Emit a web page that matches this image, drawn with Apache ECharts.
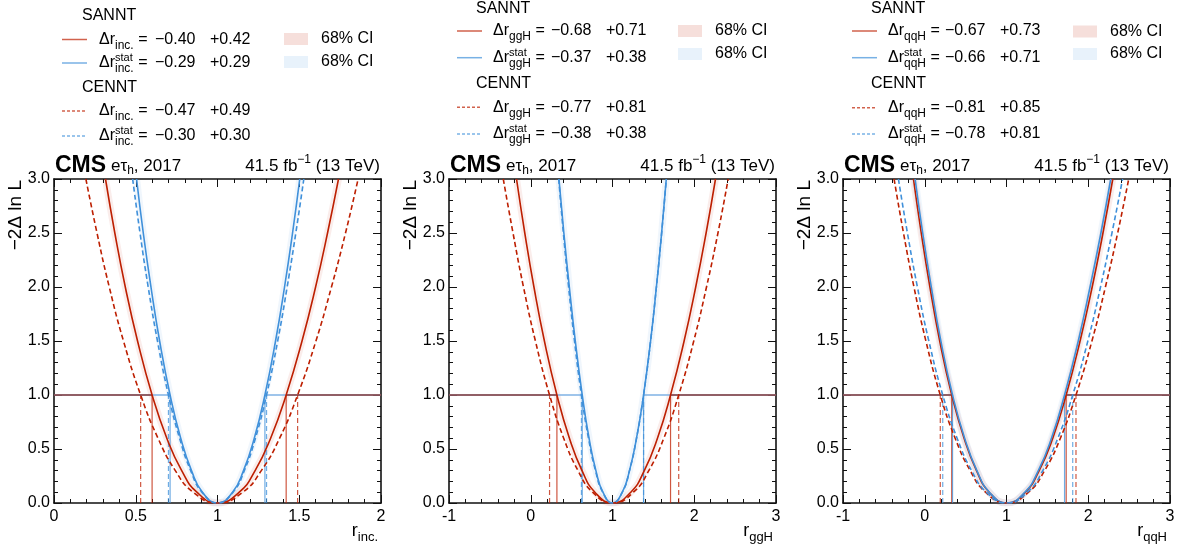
<!DOCTYPE html>
<html><head><meta charset="utf-8">
<script src="https://cdn.jsdelivr.net/npm/echarts@6/dist/echarts.min.js"></script>
<style>html,body{margin:0;padding:0;background:#fff}#c{width:1185px;height:547px}</style>
</head><body><div id="c"></div>
<script>
// ---------------- DATA ----------------
// -2 Delta ln L levels at which curve crossings were read (top -> minimum)
const levels = [3.0, 2.5, 2.0, 1.5, 1.0, 0.6, 0.3, 0.1, 0.0];
const bestFit = 1.0;

// r_inc. panel
const incSanntLeft      = [0.315, 0.372, 0.436, 0.511, 0.600, 0.690, 0.781, 0.874, 1.000];
const incSanntRight     = [1.740, 1.673, 1.600, 1.517, 1.420, 1.325, 1.230, 1.133, 1.000];
const incSanntStatLeft  = [0.505, 0.546, 0.593, 0.646, 0.710, 0.775, 0.841, 0.908, 1.000];
const incSanntStatRight = [1.503, 1.459, 1.410, 1.355, 1.290, 1.225, 1.159, 1.092, 1.000];
const incCenntLeft      = [0.195, 0.263, 0.338, 0.425, 0.530, 0.636, 0.742, 0.851, 1.000];
const incCenntRight     = [1.860, 1.783, 1.697, 1.602, 1.490, 1.380, 1.268, 1.155, 1.000];
const incCenntStatLeft  = [0.481, 0.526, 0.576, 0.633, 0.700, 0.768, 0.836, 0.905, 1.000];
const incCenntStatRight = [1.528, 1.479, 1.426, 1.368, 1.300, 1.232, 1.164, 1.095, 1.000];
// order: SANNT, SANNT stat, CENNT, CENNT stat
const incErrDown = [0.40, 0.29, 0.47, 0.30];
const incErrUp   = [0.42, 0.29, 0.49, 0.30];

// r_ggH panel
const ggHSanntLeft      = [-0.174, -0.073, 0.039, 0.167, 0.320, 0.473, 0.627, 0.785, 1.000];
const ggHSanntRight     = [2.260, 2.145, 2.018, 1.876, 1.710, 1.550, 1.389, 1.224, 1.000];
const ggHSanntStatLeft  = [0.345, 0.405, 0.472, 0.545, 0.630, 0.713, 0.797, 0.883, 1.000];
const ggHSanntStatRight = [1.658, 1.601, 1.537, 1.466, 1.380, 1.294, 1.208, 1.120, 1.000];
const ggHCenntLeft      = [-0.336, -0.217, -0.089, 0.057, 0.230, 0.403, 0.578, 0.757, 1.000];
const ggHCenntRight     = [2.415, 2.290, 2.150, 1.994, 1.810, 1.628, 1.444, 1.256, 1.000];
const ggHCenntStatLeft  = [0.342, 0.399, 0.463, 0.535, 0.620, 0.706, 0.792, 0.880, 1.000];
const ggHCenntStatRight = [1.658, 1.601, 1.537, 1.466, 1.380, 1.294, 1.208, 1.120, 1.000];
const ggHErrDown = [0.68, 0.37, 0.77, 0.38];
const ggHErrUp   = [0.71, 0.38, 0.81, 0.38];

// r_qqH panel
const qqHSanntLeft      = [-0.138, -0.043, 0.063, 0.183, 0.330, 0.481, 0.633, 0.788, 1.000];
const qqHSanntRight     = [2.300, 2.180, 2.048, 1.900, 1.730, 1.566, 1.400, 1.231, 1.000];
const qqHSanntStatLeft  = [-0.118, -0.025, 0.080, 0.197, 0.340, 0.488, 0.638, 0.791, 1.000];
const qqHSanntStatRight = [2.275, 2.155, 2.022, 1.878, 1.710, 1.550, 1.389, 1.224, 1.000];
const qqHCenntLeft      = [-0.375, -0.260, -0.132, 0.014, 0.190, 0.372, 0.556, 0.744, 1.000];
const qqHCenntRight     = [2.495, 2.360, 2.210, 2.045, 1.850, 1.659, 1.466, 1.269, 1.000];
const qqHCenntStatLeft  = [-0.322, -0.212, -0.090, 0.050, 0.220, 0.396, 0.573, 0.754, 1.000];
const qqHCenntStatRight = [2.420, 2.290, 2.150, 1.995, 1.810, 1.628, 1.444, 1.256, 1.000];
const qqHErrDown = [0.67, 0.66, 0.81, 0.78];
const qqHErrUp   = [0.73, 0.71, 0.85, 0.81];

const poiNames = ['inc.', 'ggH', 'qqH'];
const xRanges = [[0, 2], [-1, 3], [-1, 3]];
const xIntervals = [0.5, 1, 1];
const yRange = [0, 3];
const yInterval = 0.5;
const methodNames = ['SANNT', 'CENNT'];
const ciLabel = '68% CI';
const cmsLabel = 'CMS';
const channelLabel = ['e\u03c4', 'h', ', 2017'];
const lumiLabel = ['41.5 fb', '\u22121', ' (13 TeV)'];
const yTitle = '\u22122\u0394 ln L';

// ---------------- STYLE / LAYOUT ----------------
const RED = '#bd1f01', BLUE = '#3f90da';
const FONT = '"Liberation Sans", Arial, Helvetica, sans-serif';
const G = [{x: 54, y: 179, w: 327, h: 324}, {x: 449, y: 179, w: 327, h: 324}, {x: 843, y: 179, w: 327, h: 324}];
const LEG = [
  {titleX: 82, lineX: 62, textX: 99, n1X: 155, n2X: 210, ciBoxX: 284, ciTextX: 321,
   rows: [15.7, 39.5, 63, 88, 111, 136], ciRows: [39, 62]},
  {titleX: 476, lineX: 457, textX: 493, n1X: 551, n2X: 606, ciBoxX: 678, ciTextX: 715,
   rows: [8.3, 31, 57.7, 84, 107.3, 134], ciRows: [31, 54]},
  {titleX: 871, lineX: 852, textX: 888, n1X: 945, n2X: 1000, ciBoxX: 1073, ciTextX: 1110,
   rows: [9, 31, 57.7, 84, 107.7, 134], ciRows: [31.5, 54]}
];

const curveSets = [
  [[incSanntLeft, incSanntRight], [incSanntStatLeft, incSanntStatRight], [incCenntLeft, incCenntRight], [incCenntStatLeft, incCenntStatRight]],
  [[ggHSanntLeft, ggHSanntRight], [ggHSanntStatLeft, ggHSanntStatRight], [ggHCenntLeft, ggHCenntRight], [ggHCenntStatLeft, ggHCenntStatRight]],
  [[qqHSanntLeft, qqHSanntRight], [qqHSanntStatLeft, qqHSanntStatRight], [qqHCenntLeft, qqHCenntRight], [qqHCenntStatLeft, qqHCenntStatRight]]
];
const errDown = [incErrDown, ggHErrDown, qqHErrDown];
const errUp = [incErrUp, ggHErrUp, qqHErrUp];
const curveColor = [RED, BLUE, RED, BLUE];
const curveDashed = [false, false, true, true];

function buildCurve(L, R) {
  const pts = L.map((x, i) => [x, levels[i]]);
  for (let i = levels.length - 2; i >= 0; i--) pts.push([R[i], levels[i]]);
  return pts;
}

// text measuring for composed sub/superscript labels
const mctx = document.createElement('canvas').getContext('2d');
function tw(t, fs, b) { mctx.font = (b ? 'bold ' : '') + fs + 'px ' + FONT; return mctx.measureText(t).width; }
function rich(pieces, x, y, align, color) {
  let cur = 0, prevStart = 0; const items = [];
  pieces.forEach(p => {
    const w = tw(p.t, p.fs, p.b);
    let start;
    if (p.same) { start = prevStart; cur = Math.max(cur, start + w); }
    else { start = cur + (p.gap || 0); cur = start + w; prevStart = start; }
    items.push({p, start});
  });
  const x0 = align === 'right' ? x - cur : x;
  return items.map(({p, start}) => ({
    type: 'text', x: x0 + start, y: y + (p.dy || 0), silent: true, z: 100,
    style: {text: p.t, fontSize: p.fs, fontWeight: p.b ? 'bold' : 'normal', fontFamily: FONT,
            fill: color || '#000', align: 'left', verticalAlign: 'middle'}
  }));
}
function fmt(v) { return v.toFixed(2); }

const xAxes = [], yAxes = [], grids = [], series = [], graphics = [];

G.forEach((g, i) => {
  grids.push({left: g.x, top: g.y, width: g.w, height: g.h, containLabel: false});
  const axLine = {show: true, onZero: false, lineStyle: {color: '#111', width: 1.6}};
  const tick = {show: true, inside: true, length: 8, lineStyle: {color: '#111', width: 1}};
  const minor = {show: true, splitNumber: 5, length: 4, lineStyle: {color: '#111', width: 1}};
  const base = {type: 'value', gridIndex: i, splitLine: {show: false}, minorSplitLine: {show: false}};
  xAxes.push(Object.assign({}, base, {position: 'bottom', min: xRanges[i][0], max: xRanges[i][1], interval: xIntervals[i],
    axisLine: axLine, axisTick: tick, minorTick: minor,
    axisLabel: {show: true, fontSize: 16, color: '#000', fontFamily: FONT, margin: 6, showMinLabel: true, showMaxLabel: true, hideOverlap: false}}));
  xAxes.push(Object.assign({}, base, {position: 'top', min: xRanges[i][0], max: xRanges[i][1], interval: xIntervals[i],
    axisLine: axLine, axisTick: tick, minorTick: minor, axisLabel: {show: false}}));
  yAxes.push(Object.assign({}, base, {position: 'left', min: yRange[0], max: yRange[1], interval: yInterval,
    axisLine: axLine, axisTick: tick, minorTick: minor,
    axisLabel: {show: true, fontSize: 16, color: '#000', fontFamily: FONT, margin: 4, showMinLabel: true, showMaxLabel: true,
      formatter: v => v.toFixed(1)}}));
  yAxes.push(Object.assign({}, base, {position: 'right', min: yRange[0], max: yRange[1], interval: yInterval,
    axisLine: axLine, axisTick: tick, minorTick: minor, axisLabel: {show: false}}));

  const xa = 2 * i, ya = 2 * i;
  const [xmin, xmax] = xRanges[i];
  const ls = (data, color, width, dashed, opacity, z) => ({
    type: 'line', xAxisIndex: xa, yAxisIndex: ya, data, symbol: 'none', silent: true, z,
    lineStyle: {color, width, type: dashed ? [5, 3] : 'solid', opacity}, animation: false
  });

  // 68% CI bands around the SANNT curves
  [0, 1].forEach(k => {
    const s = ls(buildCurve(curveSets[i][k][0], curveSets[i][k][1]), curveColor[k], 7, false, 0.08, 1);
    s.smooth = 0.5;
    series.push(s);
  });
  // horizontal 68% line at -2 Delta ln L = 1
  const e1 = errDown[i], e2 = errUp[i];
  series.push(ls([[xmin, 1], [bestFit - e1[1], 1]], '#7fb2e4', 1.5, false, 1, 2));
  series.push(ls([[bestFit + e2[1], 1], [xmax, 1]], '#7fb2e4', 1.5, false, 1, 2));
  series.push(ls([[xmin, 1], [bestFit - e1[0], 1]], '#8c3d3a', 1.5, false, 1, 3));
  series.push(ls([[bestFit + e2[0], 1], [xmax, 1]], '#8c3d3a', 1.5, false, 1, 3));
  // vertical lines at crossings
  [0, 1, 2, 3].forEach(k => {
    series.push(ls([[bestFit - e1[k], 0], [bestFit - e1[k], 1]], curveColor[k], 1.2, curveDashed[k], 0.75, 2));
    series.push(ls([[bestFit + e2[k], 0], [bestFit + e2[k], 1]], curveColor[k], 1.2, curveDashed[k], 0.75, 2));
  });
  // likelihood curves
  [0, 1, 2, 3].forEach(k => {
    const s = ls(buildCurve(curveSets[i][k][0], curveSets[i][k][1]), curveColor[k], 1.6, curveDashed[k], 1, 4);
    s.smooth = 0.5;
    series.push(s);
  });

  // ---- header texts ----
  graphics.push(...rich([{t: cmsLabel, fs: 23, b: true}], g.x + 1, 166, 'left'));
  graphics.push(...rich([{t: channelLabel[0], fs: 17}, {t: channelLabel[1], fs: 12, dy: 5}, {t: channelLabel[2], fs: 17}], g.x + 57, 166, 'left'));
  graphics.push(...rich([{t: lumiLabel[0], fs: 17}, {t: lumiLabel[1], fs: 12, dy: -6}, {t: lumiLabel[2], fs: 17}], g.x + g.w - 1, 166, 'right'));
  // y-axis title (rotated)
  graphics.push({type: 'text', x: g.x - 38, y: g.y + 1, rotation: Math.PI / 2, silent: true,
    style: {text: yTitle, fontSize: 19, fontFamily: FONT, fill: '#000', align: 'right', verticalAlign: 'middle'}});
  // x-axis title
  graphics.push(...rich([{t: 'r', fs: 18}, {t: poiNames[i], fs: 13, dy: 6}], g.x + g.w - 3, 531, 'right'));

  // ---- legend ----
  const L = LEG[i];
  [0, 1].forEach(m => {
    graphics.push(...rich([{t: methodNames[m], fs: 16}], L.titleX, L.rows[m * 3], 'left'));
    [0, 1].forEach(s => {
      const k = m * 2 + s;
      const y = L.rows[m * 3 + 1 + s];
      graphics.push({type: 'line', silent: true, shape: {x1: L.lineX, y1: y, x2: L.lineX + 25, y2: y},
        style: {stroke: curveColor[k], lineWidth: 1.5, opacity: 0.7, lineDash: curveDashed[k] ? [3, 2] : null}});
      const pieces = [{t: '\u0394r', fs: 16}];
      if (s === 1) { pieces.push({t: 'stat', fs: 11, dy: -5}); pieces.push({t: poiNames[i], fs: 12, dy: 6, same: true}); }
      else pieces.push({t: poiNames[i], fs: 12, dy: 6});
      pieces.push({t: ' =', fs: 16});
      graphics.push(...rich(pieces, L.textX, y, 'left'));
      graphics.push(...rich([{t: '\u2212' + fmt(errDown[i][k]), fs: 16}], L.n1X, y, 'left'));
      graphics.push(...rich([{t: '+' + fmt(errUp[i][k]), fs: 16}], L.n2X, y, 'left'));
    });
  });
  [0, 1].forEach(c => {
    const y = L.ciRows[c];
    graphics.push({type: 'rect', silent: true, shape: {x: L.ciBoxX, y: y - 6, width: 24, height: 12},
      style: {fill: c === 0 ? 'rgba(189,31,1,0.14)' : 'rgba(63,144,218,0.12)'}});
    graphics.push(...rich([{t: ciLabel, fs: 16}], L.ciTextX, y, 'left'));
  });
});

const chart = echarts.init(document.getElementById('c'), null, {renderer: 'canvas'});
chart.setOption({
  animation: false,
  backgroundColor: '#fff',
  grid: grids, xAxis: xAxes, yAxis: yAxes, series, graphic: graphics
});
</script></body></html>
